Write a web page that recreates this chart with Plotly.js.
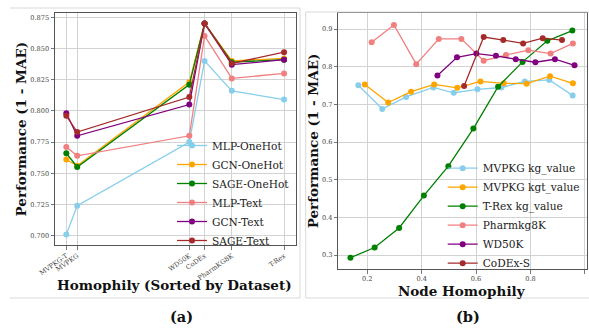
<!DOCTYPE html>
<html>
<head>
<meta charset="utf-8">
<script src="https://cdn.plot.ly/plotly-3.0.1.min.js"></script>
<style>html,body{margin:0;padding:0;background:#fff;}#chart{width:589px;height:330px;}</style>
</head>
<body>
<div id="chart"></div>
<script>
// ---------- Panel (a): performance vs dataset homophily ----------
const datasetLabels = ["MVPKG-T", "MVPKG", "WD50K", "CoDEx", "PharmKG8K", "T-Rex"];
const datasetHomophily = [0.300, 0.310, 0.413, 0.427, 0.452, 0.500];
const mlpOneHot  = [0.701, 0.724, 0.775, 0.840, 0.816, 0.809];
const gcnOneHot  = [0.761, 0.756, 0.823, 0.870, 0.840, 0.842];
const sageOneHot = [0.766, 0.755, 0.821, 0.870, 0.839, 0.841];
const mlpText    = [0.771, 0.764, 0.780, 0.860, 0.826, 0.830];
const gcnText    = [0.798, 0.780, 0.805, 0.870, 0.837, 0.841];
const sageText   = [0.796, 0.783, 0.811, 0.870, 0.838, 0.847];
const leftYTicks = [0.700, 0.725, 0.750, 0.775, 0.800, 0.825, 0.850, 0.875];

// ---------- Panel (b): performance vs node homophily ----------
const kgX    = [0.167, 0.255, 0.343, 0.443, 0.518, 0.605, 0.693, 0.779, 0.869, 0.955];
const kgY    = [0.751, 0.688, 0.720, 0.745, 0.731, 0.740, 0.745, 0.761, 0.765, 0.724];
const kgtX   = [0.191, 0.277, 0.361, 0.446, 0.531, 0.616, 0.702, 0.786, 0.872, 0.956];
const kgtY   = [0.753, 0.705, 0.734, 0.753, 0.744, 0.761, 0.756, 0.755, 0.775, 0.756];
const trexX  = [0.138, 0.227, 0.317, 0.408, 0.498, 0.590, 0.681, 0.771, 0.862, 0.954];
const trexY  = [0.293, 0.320, 0.372, 0.458, 0.536, 0.636, 0.747, 0.813, 0.869, 0.896];
const pharmX = [0.216, 0.298, 0.380, 0.463, 0.546, 0.628, 0.710, 0.792, 0.874, 0.956];
const pharmY = [0.865, 0.911, 0.807, 0.874, 0.874, 0.816, 0.831, 0.844, 0.835, 0.862];
const wdX    = [0.458, 0.530, 0.601, 0.673, 0.746, 0.818, 0.890, 0.962];
const wdY    = [0.777, 0.825, 0.835, 0.829, 0.820, 0.812, 0.820, 0.804];
const codexX = [0.556, 0.628, 0.700, 0.773, 0.845, 0.916];
const codexY = [0.749, 0.879, 0.871, 0.862, 0.876, 0.871];
const rightXTicks = [0.2, 0.4, 0.6, 0.8, 1.0];
const rightYTicks = [0.3, 0.4, 0.5, 0.6, 0.7, 0.8, 0.9];

const C = {sky:"#87CEEB", orange:"#FFA500", green:"#008000", coral:"#F08080", purple:"#800080", brown:"#A52A2A"};
const SERIF = "DejaVu Serif, serif";

function tr(x, y, name, color, xa, ya, legend) {
  return {x:x, y:y, name:name, type:"scatter", mode:"lines+markers",
    line:{color:color, width:1.3}, marker:{color:color, size:6},
    xaxis:xa, yaxis:ya, legend:legend, hoverinfo:"skip"};
}

const traces = [
  tr(datasetHomophily, mlpOneHot,  "MLP-OneHot",  C.sky,    "x",  "y",  "legend"),
  tr(datasetHomophily, gcnOneHot,  "GCN-OneHot",  C.orange, "x",  "y",  "legend"),
  tr(datasetHomophily, sageOneHot, "SAGE-OneHot", C.green,  "x",  "y",  "legend"),
  tr(datasetHomophily, mlpText,    "MLP-Text",    C.coral,  "x",  "y",  "legend"),
  tr(datasetHomophily, gcnText,    "GCN-Text",    C.purple, "x",  "y",  "legend"),
  tr(datasetHomophily, sageText,   "SAGE-Text",   C.brown,  "x",  "y",  "legend"),
  tr(kgX,    kgY,    "MVPKG kg_value",  C.sky,    "x2", "y2", "legend2"),
  tr(kgtX,   kgtY,   "MVPKG kgt_value", C.orange, "x2", "y2", "legend2"),
  tr(trexX,  trexY,  "T-Rex kg_value",  C.green,  "x2", "y2", "legend2"),
  tr(pharmX, pharmY, "Pharmkg8K",       C.coral,  "x2", "y2", "legend2"),
  tr(wdX,    wdY,    "WD50K",           C.purple, "x2", "y2", "legend2"),
  tr(codexX, codexY, "CoDEx-S",         C.brown,  "x2", "y2", "legend2")
];

const W = 589, H = 330;
const px = v => v / W, py = v => 1 - v / H;

const axisCommon = {
  showline:true, mirror:true, linecolor:"#555", linewidth:1,
  showgrid:true, gridcolor:"#d3d3d3", gridwidth:1, zeroline:false,
  ticks:"outside", ticklen:3.5, tickwidth:0.8, tickcolor:"#555",
  tickfont:{family:SERIF, size:6.6, color:"#444"}
};

function ann(text, x, y, size, angle) {
  return {text:"<b>" + text + "</b>", xref:"paper", yref:"paper", x:px(x), y:py(y),
    xanchor:"center", yanchor:"middle", textangle:angle || 0, showarrow:false,
    font:{family:SERIF, size:size, color:"#111"}};
}
function ln(x0, y0, x1, y1) {
  return {type:"line", xref:"paper", yref:"paper", x0:px(x0), x1:px(x1), y0:py(y0), y1:py(y1),
    line:{color:"#d9d9d9", width:1}};
}

const layout = {
  width:W, height:H, margin:{l:0, r:0, t:0, b:0},
  paper_bgcolor:"#fff", plot_bgcolor:"#fff",
  showlegend:true,
  xaxis: Object.assign({}, axisCommon, {
    domain:[px(55), px(295.7)], range:[0.2896, 0.5107],
    tickmode:"array", tickvals:datasetHomophily, ticktext:datasetLabels, tickangle:-35,
    anchor:"y"
  }),
  yaxis: Object.assign({}, axisCommon, {
    domain:[py(245), py(13)], range:[0.6925, 0.8784],
    tickmode:"array", tickvals:leftYTicks, tickformat:".3f", anchor:"x"
  }),
  xaxis2: Object.assign({}, axisCommon, {
    domain:[px(338.3), px(587.3)], range:[0.0934, 1.009],
    tickmode:"array", tickvals:rightXTicks, tickformat:".1f", anchor:"y2"
  }),
  yaxis2: Object.assign({}, axisCommon, {
    domain:[py(269), py(13.3)], range:[0.263, 0.942],
    tickmode:"array", tickvals:rightYTicks, tickformat:".1f", anchor:"x2"
  }),
  legend: {x:px(172), xanchor:"left", y:py(193), yanchor:"middle",
    bgcolor:"rgba(0,0,0,0)", borderwidth:0, font:{family:SERIF, size:10.6, color:"#222"}},
  legend2: {x:px(442.7), xanchor:"left", y:py(215.7), yanchor:"middle",
    bgcolor:"rgba(0,0,0,0)", borderwidth:0, font:{family:SERIF, size:10.6, color:"#222"}},
  annotations: [
    ann("Performance (1 - MAE)", 20.5, 129, 13.5, -90),
    ann("Homophily (Sorted by Dataset)", 175, 285, 13.5),
    ann("Performance (1 - MAE)", 313.3, 141, 13.5, -90),
    ann("Node Homophily", 462, 290.5, 13.5),
    ann("(a)", 181, 316.5, 14.5),
    ann("(b)", 468, 316.5, 14.5)
  ],
  shapes: [
    ln(10, 8, 300, 8), ln(10, 298, 300, 298), ln(300, 8, 300, 298),
    ln(305.7, 12, 589, 12), ln(305.7, 298, 589, 298), ln(305.7, 12, 305.7, 298)
  ]
};

Plotly.newPlot("chart", traces, layout, {displayModeBar:false, staticPlot:true});
</script>
</body>
</html>
